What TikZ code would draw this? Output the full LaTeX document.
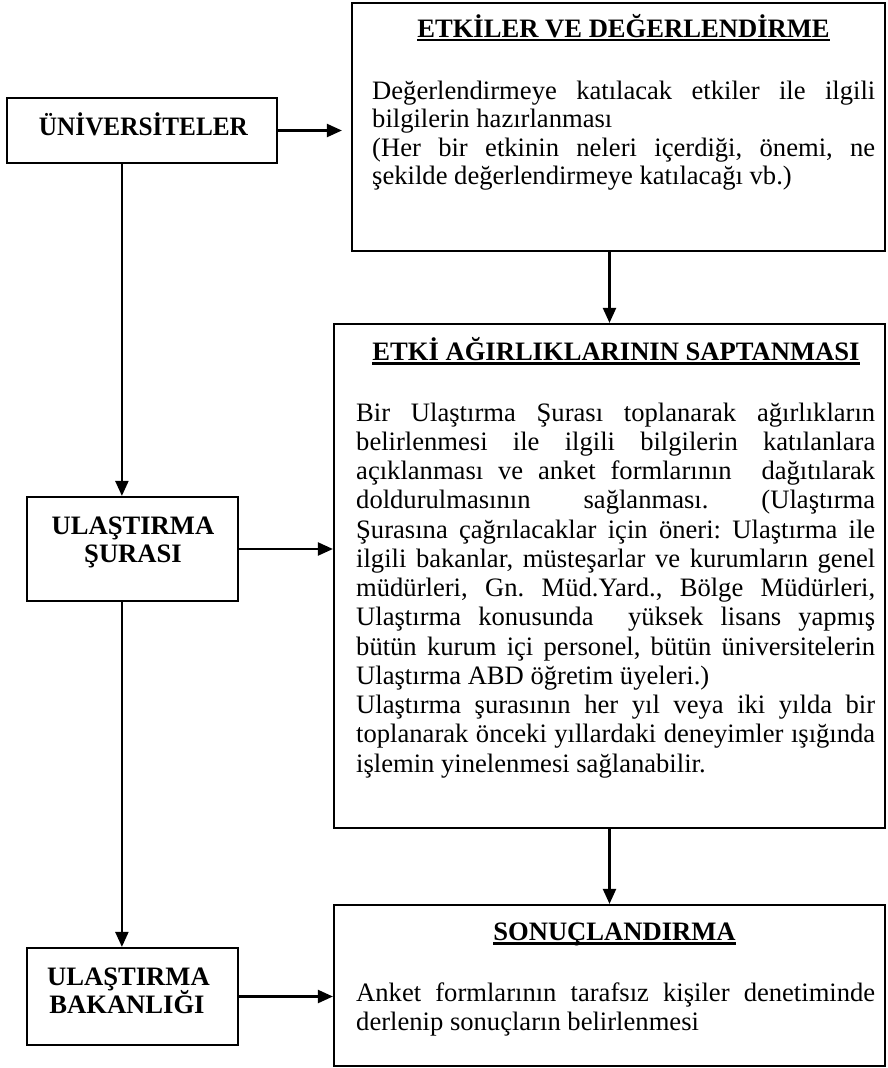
\documentclass[tikz,border=0pt]{standalone}
\usepackage{fontspec}
\setmainfont{Liberation Serif}
\usepackage{graphicx}
\usetikzlibrary{arrows.meta}
\frenchspacing

% a justified line of body text
\newcommand\jline[1]{\makebox[\linewidth][s]{#1}}
% heading with a thick underline
\newcommand\ulined[1]{\setbox0=\hbox{#1}\rlap{\rule[-4.5pt]{\wd0}{2.2pt}}\box0}

\begin{document}
\begin{tikzpicture}[x=1pt,y=-1pt,
  frame/.style={draw, line width=2.2pt, inner sep=0pt},
  arr/.style={line width=2.2pt, -{Triangle[length=15pt,width=13pt]}},
  head/.style={anchor=base, inner sep=0pt, font=\fontsize{26.6}{28}\selectfont\bfseries},
  body/.style={anchor=base west, inner sep=0pt, font=\fontsize{26.6}{28}\selectfont},
]
\useasboundingbox[fill=white] (0,0) rectangle (888,1068);

% ---- left column ----
\node[frame, minimum width=270pt, minimum height=65pt] (univ) at (142,130.5) {};
\node[head] (univT) at (143.5,135) {\resizebox{209pt}{\height}{ÜNİVERSİTELER}};

\node[frame, minimum width=211pt, minimum height=104pt] (sura) at (132.5,549) {};
\node[head] (suraA) at (133,534) {ULAŞTIRMA};
\node[head] (suraB) at (133,562.7) {ŞURASI};

\node[frame, minimum width=211pt, minimum height=97pt] (bak) at (132.5,996.5) {};
\node[head] (bakA) at (128.5,985) {ULAŞTIRMA};
\node[head] (bakB) at (127,1013) {BAKANLIĞI};

% ---- right column ----
\node[frame, minimum width=533pt, minimum height=248pt] (etk) at (618.5,127) {};
\node[head] (etkH) at (623.5,37) {\ulined{ETKİLER VE DEĞERLENDİRME}};
\node[body] (etkB) at (372,99) {\parbox[t]{503pt}{\fontsize{26.6}{28.5}\selectfont
\jline{Değerlendirmeye katılacak etkiler ile ilgili}\\
bilgilerin hazırlanması\\
\jline{(Her bir etkinin neleri içerdiği, önemi, ne}\\
şekilde değerlendirmeye katılacağı vb.)}};

\node[frame, minimum width=551pt, minimum height=504pt] (etki) at (609.5,576) {};
\node[head] (etkiH) at (616,360) {\ulined{ETKİ AĞIRLIKLARININ SAPTANMASI}};
\node[body] (etkiB) at (356,421) {\parbox[t]{519pt}{\fontsize{26.6}{29.25}\selectfont
\jline{Bir Ulaştırma Şurası toplanarak ağırlıkların}\\
\jline{belirlenmesi ile ilgili bilgilerin katılanlara}\\
\jline{açıklanması ve anket formlarının\ \ dağıtılarak}\\
\jline{doldurulmasının sağlanması. (Ulaştırma}\\
\jline{Şurasına çağrılacaklar için öneri: Ulaştırma ile}\\
\jline{ilgili bakanlar, müsteşarlar ve kurumların genel}\\
\jline{müdürleri, Gn. Müd.Yard., Bölge Müdürleri,}\\
\jline{Ulaştırma konusunda\ \ yüksek lisans yapmış}\\
\jline{bütün kurum içi personel, bütün üniversitelerin}\\
Ulaştırma ABD öğretim üyeleri.)\\
\jline{Ulaştırma şurasının her yıl veya iki yılda bir}\\
\jline{toplanarak önceki yıllardaki deneyimler ışığında}\\
işlemin yinelenmesi sağlanabilir.}};

\node[frame, minimum width=551pt, minimum height=161pt] (son) at (609.5,985.5) {};
\node[head] (sonH) at (614.5,940) {\ulined{SONUÇLANDIRMA}};
\node[body] (sonB) at (356,1001.5) {\parbox[t]{519pt}{\fontsize{26.6}{28.5}\selectfont
\jline{Anket formlarının tarafsız kişiler denetiminde}\\
derlenip sonuçların belirlenmesi}};

% ---- connectors ----
\draw[arr, shorten >=9pt] (univ.east) -- (univ.east -| etk.west);
\draw[arr] ([xshift=116pt]univ.south west) -- ([xshift=96pt]sura.north west);
\draw[arr] (sura.east) -- (sura.east -| etki.west);
\draw[arr] ([xshift=96pt]sura.south west) -- ([xshift=96pt]bak.north west);
\draw[arr] (bak.east) -- (bak.east -| son.west);
\draw[arr] (etk.south -| etki.north) -- (etki.north);
\draw[arr] (etki.south) -- (son.north);
\end{tikzpicture}
\end{document}
